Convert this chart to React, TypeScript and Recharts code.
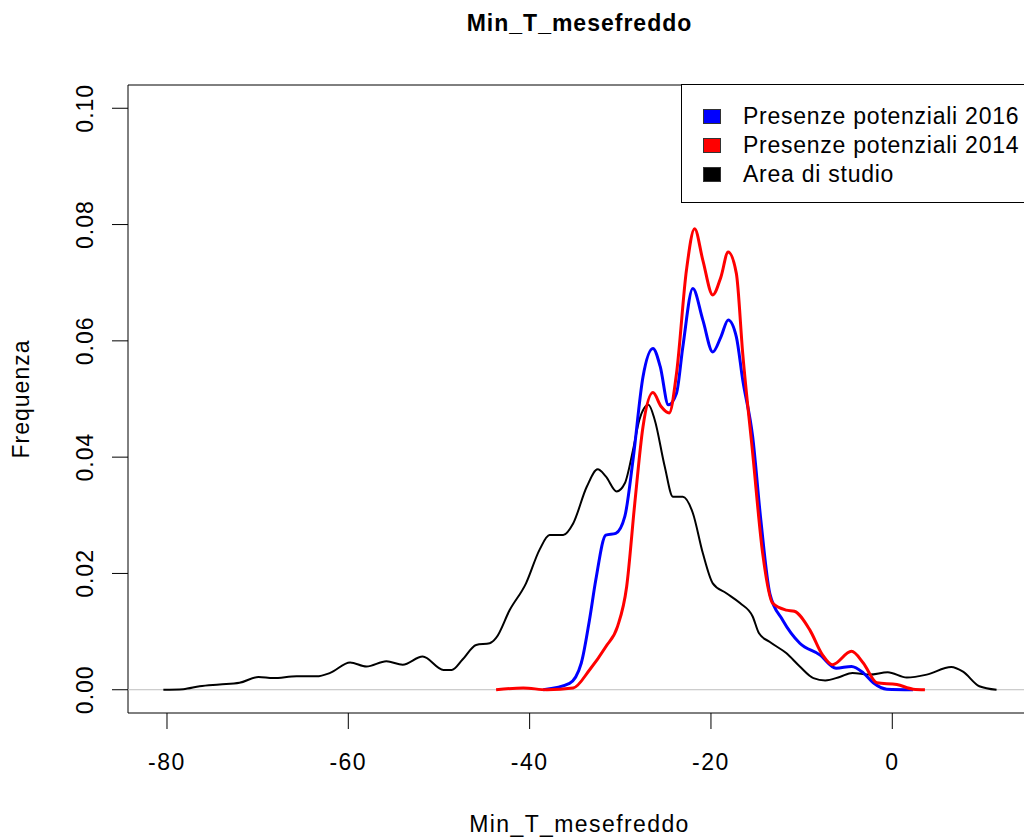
import React from "react";
import {
  LineChart, Line, XAxis, YAxis, Legend, ReferenceArea, ReferenceLine,
} from "recharts";

// density of Min_T_mesefreddo
const studyX = [-80.4, -78.2, -76.4, -74.2, -72.0, -69.9, -68.3, -65.7, -63.5, -62.0, -59.8, -58.0, -55.8, -54.0, -51.8, -49.5, -48.6, -47.4, -45.9, -44.4, -43.7, -42.2, -40.4, -38.9, -37.8, -36.3, -35.2, -33.7, -32.5, -31.6, -30.4, -29.5, -28.6, -27.9, -26.9, -26.2, -25.1, -24.2, -23.1, -22.0, -20.9, -19.8, -18.3, -16.8, -15.4, -14.7, -13.5, -11.7, -10.2, -8.7, -7.4, -5.8, -4.4, -2.5, -0.5, 1.6, 3.8, 6.5, 7.8, 9.6, 11.5];
const studyY = [0, 0.0001, 0.0006, 0.0009, 0.0012, 0.0022, 0.002, 0.0023, 0.0023, 0.0029, 0.0047, 0.004, 0.0049, 0.0043, 0.0057, 0.0034, 0.0034, 0.0052, 0.0077, 0.008, 0.0089, 0.0137, 0.0183, 0.0241, 0.0266, 0.0266, 0.0286, 0.0349, 0.0379, 0.0367, 0.0341, 0.0355, 0.0412, 0.0464, 0.049, 0.0464, 0.0384, 0.0332, 0.0332, 0.0304, 0.0235, 0.0183, 0.0166, 0.0149, 0.0126, 0.0097, 0.0082, 0.0063, 0.004, 0.002, 0.0016, 0.0022, 0.0029, 0.0026, 0.003, 0.0021, 0.0026, 0.0039, 0.0031, 0.0006, 0];

const pres2016X = [-38.5, -35.6, -34.3, -33.4, -32.7, -31.6, -30.5, -29.5, -28.6, -27.5, -26.4, -25.6, -24.7, -23.8, -23.1, -22.0, -20.9, -19.8, -18.9, -18.1, -17.2, -16.5, -15.4, -14.5, -13.5, -12.1, -10.2, -8.0, -6.2, -4.5, -3.2, -2.1, -0.6, 2.3];
const pres2016Y = [0, 0.0011, 0.0046, 0.012, 0.0189, 0.0266, 0.0269, 0.0298, 0.0395, 0.0538, 0.0587, 0.0556, 0.049, 0.051, 0.059, 0.069, 0.0636, 0.0581, 0.0607, 0.0636, 0.0607, 0.0533, 0.0435, 0.0292, 0.0165, 0.012, 0.008, 0.006, 0.0037, 0.004, 0.0029, 0.0012, 0.0001, 0];

const pres2014X = [-43.7, -40.7, -38.1, -35.2, -33.4, -31.6, -30.3, -29.3, -28.4, -27.5, -26.4, -25.5, -24.6, -23.8, -22.7, -21.8, -20.9, -19.8, -18.9, -18.1, -17.2, -16.5, -15.4, -14.3, -13.2, -11.7, -10.8, -9.1, -7.7, -6.6, -4.5, -3.2, -1.7, 0.5, 2.3, 3.6];
const pres2014Y = [0, 0.0003, 0, 0.0003, 0.0034, 0.0074, 0.0109, 0.0177, 0.0321, 0.0452, 0.0511, 0.0487, 0.0476, 0.0544, 0.0722, 0.0793, 0.0739, 0.0679, 0.071, 0.0753, 0.0716, 0.0579, 0.0407, 0.0235, 0.0149, 0.0137, 0.0135, 0.0103, 0.006, 0.0043, 0.0066, 0.0046, 0.0012, 0.0009, 0.0001, 0];

const xTicks = [-80, -60, -40, -20, 0];
const yTicks = [0, 0.02, 0.04, 0.06, 0.08, 0.1];
const legendOrder = ["Presenze potenziali 2016", "Presenze potenziali 2014", "Area di studio"];

const toRows = (xs: number[], ys: number[]) => xs.map((x, i) => ({ x, y: ys[i] }));
const studyData = toRows(studyX, studyY);
const data2016 = toRows(pres2016X, pres2016Y);
const data2014 = toRows(pres2014X, pres2014Y);

const FONT = '"Liberation Sans", Arial, sans-serif';

const XTick = ({ x, y, payload }: any) => (
  <text x={x} y={y} textAnchor="middle" fontSize={23} fontFamily={FONT} letterSpacing={1.5} fill="#000">
    {payload.value}
  </text>
);

const YTick = ({ x, y, payload }: any) => (
  <text x={x} y={y} transform={`rotate(-90 ${x} ${y})`} textAnchor="middle" fontSize={23} fontFamily={FONT} letterSpacing={1} fill="#000">
    {Number(payload.value).toFixed(2)}
  </text>
);

const XTitle = ({ viewBox }: any) => (
  <text x={viewBox.x + viewBox.width / 2} y={viewBox.y + 119} textAnchor="middle" fontSize={23} fontFamily={FONT} letterSpacing={1.4} fill="#000">
    Min_T_mesefreddo
  </text>
);

const YTitle = ({ viewBox }: any) => {
  const x = viewBox.x - 41;
  const y = viewBox.y + viewBox.height / 2;
  return (
    <text x={x} y={y} transform={`rotate(-90 ${x} ${y})`} textAnchor="middle" fontSize={23} fontFamily={FONT} letterSpacing={1} fill="#000">
      Frequenza
    </text>
  );
};

const LegendBox = ({ payload }: any) => {
  const items = [...(payload || [])].sort(
    (a: any, b: any) => legendOrder.indexOf(a.value) - legendOrder.indexOf(b.value),
  );
  return (
    <div style={{ position: "relative", width: 360, height: 119, border: "1px solid #000", boxSizing: "border-box", background: "#fff", fontFamily: FONT }}>
      {items.map((it: any, i: number) => (
        <div key={it.value} style={{ position: "absolute", left: 0, top: 20 + i * 29, height: 23, display: "flex", alignItems: "center" }}>
          <span style={{ display: "inline-block", width: 16, height: 13, background: it.color, border: "1px solid #333", marginLeft: 21 }} />
          <span style={{ marginLeft: 22, fontSize: 23, lineHeight: "23px", letterSpacing: 0.75, color: "#000", whiteSpace: "nowrap" }}>{it.value}</span>
        </div>
      ))}
    </div>
  );
};

export default function App() {
  return (
    <div style={{ position: "fixed", left: 0, top: 0, width: 1024, height: 839, overflow: "hidden", background: "#fff" }}>
      <div style={{ position: "absolute", left: 128, width: 903, top: 12, textAlign: "center", fontFamily: FONT, fontWeight: "bold", fontSize: 23, lineHeight: "23px", letterSpacing: 1 }}>
        Min_T_mesefreddo
      </div>
      <LineChart width={1040} height={839} margin={{ top: 85, right: 9, bottom: 0, left: 70 }}>
        <XAxis
          type="number" dataKey="x" domain={[-84.3, 15.3]} ticks={xTicks} allowDataOverflow
          height={126} axisLine={false} tickSize={16} tickMargin={41}
          tickLine={{ stroke: "#000" }} tick={<XTick />} label={<XTitle />}
        />
        <YAxis
          type="number" dataKey="y" domain={[-0.004, 0.104]} ticks={yTicks} allowDataOverflow
          width={58} axisLine={false} tickSize={16} tickMargin={19}
          tickLine={{ stroke: "#000" }} tick={<YTick />} label={<YTitle />}
        />
        <ReferenceLine y={0} stroke="#bebebe" strokeWidth={1} />
        <ReferenceArea x1={-84.3} x2={15.3} y1={-0.004} y2={0.104} fill="none" stroke="#000" strokeWidth={1} ifOverflow="visible" />
        <Line data={studyData} dataKey="y" name="Area di studio" type="monotone" stroke="#000000" strokeWidth={2} dot={false} isAnimationActive={false} />
        <Line data={data2016} dataKey="y" name="Presenze potenziali 2016" type="monotone" stroke="#0000ff" strokeWidth={3} dot={false} isAnimationActive={false} />
        <Line data={data2014} dataKey="y" name="Presenze potenziali 2014" type="monotone" stroke="#ff0000" strokeWidth={3} dot={false} isAnimationActive={false} />
        <Legend
          layout="vertical" align="center" verticalAlign="middle"
          wrapperStyle={{ left: 681, top: 84, width: 360 }}
          content={<LegendBox />}
        />
      </LineChart>
    </div>
  );
}
